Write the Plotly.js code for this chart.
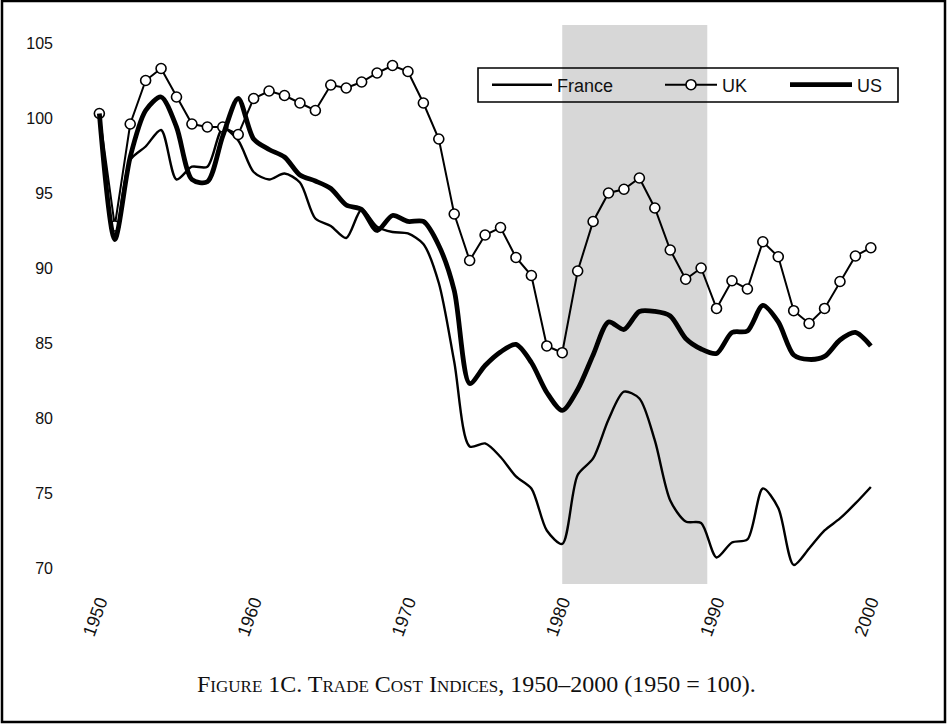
<!DOCTYPE html>
<html>
<head>
<meta charset="utf-8">
<script src="https://cdn.plot.ly/plotly-3.0.1.min.js"></script>
<style>
html,body{margin:0;padding:0;background:#fff;}
#chart{width:948px;height:725px;}
</style>
</head>
<body>
<div id="chart"></div>
<script>
const years = [1950,1951,1952,1953,1954,1955,1956,1957,1958,1959,
               1960,1961,1962,1963,1964,1965,1966,1967,1968,1969,
               1970,1971,1972,1973,1974,1975,1976,1977,1978,1979,
               1980,1981,1982,1983,1984,1985,1986,1987,1988,1989,
               1990,1991,1992,1993,1994,1995,1996,1997,1998,1999,2000];

const france = [100.3,92.0,97.2,98.1,99.2,95.9,96.75,96.75,99.3,98.5,
                96.4,95.9,96.3,95.7,93.3,92.8,92.0,93.9,92.75,92.4,
                92.3,91.6,89.0,83.75,78.1,78.3,77.4,76.1,75.3,72.5,
                71.6,76.2,77.3,79.9,81.75,81.3,78.5,74.5,73.1,73.0,
                70.7,71.7,71.9,75.3,74.0,70.2,71.3,72.5,73.3,74.3,75.4];

const uk = [100.3,92.8,99.6,102.5,103.3,101.4,99.6,99.4,99.4,98.9,
            101.3,101.8,101.5,101.0,100.5,102.2,102.0,102.4,103.0,103.5,
            103.1,101.0,98.6,93.6,90.5,92.2,92.7,90.7,89.5,84.8,
            84.35,89.8,93.1,95.0,95.25,96.0,94.0,91.2,89.25,90.0,
            87.3,89.15,88.6,91.75,90.75,87.15,86.3,87.3,89.1,90.8,91.35];

const us = [100.3,91.9,97.4,100.5,101.4,99.4,95.9,95.75,98.8,101.3,
            98.6,97.9,97.4,96.2,95.8,95.3,94.2,93.9,92.5,93.5,
            93.1,93.1,91.5,88.5,82.3,83.5,84.4,84.9,83.7,81.7,
            80.5,81.9,84.2,86.4,85.9,87.1,87.1,86.8,85.3,84.6,
            84.3,85.7,85.8,87.5,86.4,84.2,83.9,84.1,85.2,85.7,84.8];

const seriesNames = ["France","UK","US"];
const xTicks = [1950,1960,1970,1980,1990,2000];
const yTicks = [70,75,80,85,90,95,100,105];
const shadeStart = 1980, shadeEnd = 1989.4;
const caption = "Figure 1C. Trade Cost Indices, 1950–2000 (1950 = 100).";

const traces = [
  {x: years, y: france, name: seriesNames[0], type: "scatter", mode: "lines", legend: "legend",
   line: {color: "#000", width: 2.4, shape: "spline", smoothing: 0.8}},
  {x: years, y: uk, name: seriesNames[1], type: "scatter", mode: "lines+markers", legend: "legend2",
   line: {color: "#000", width: 2.0},
   marker: {symbol: "circle", size: 10, color: "#fff", line: {color: "#000", width: 1.6}}},
  {x: years, y: us, name: seriesNames[2], type: "scatter", mode: "lines", legend: "legend3",
   line: {color: "#000", width: 4.8, shape: "spline", smoothing: 0.8}}
];

const L = 60, R = 48, T = 25, B = 141;
const W = 948, H = 725;
const pw = W - L - R, ph = H - T - B;
function px2paperX(p){ return (p - L) / pw; }
function px2paperY(p){ return 1 - (p - T) / ph; }

function legendAt(leftPx, itemW){
  return {
    orientation: "h", x: px2paperX(leftPx), y: px2paperY(85), xanchor: "left", yanchor: "middle",
    bgcolor: "rgba(0,0,0,0)", borderwidth: 0, itemwidth: itemW,
    font: {size: 18, color: "#111", family: "Liberation Sans, Arial, sans-serif"}
  };
}

const layout = {
  width: W, height: H,
  margin: {l: L, r: R, t: T, b: B, pad: 0},
  paper_bgcolor: "#fff", plot_bgcolor: "rgba(0,0,0,0)",
  font: {family: "Liberation Sans, Arial, sans-serif", color: "#111", size: 16},
  showlegend: true,
  legend: legendAt(487, 60),
  legend2: legendAt(660, 52),
  legend3: legendAt(785, 62),
  xaxis: {
    range: [1947.45, 2001.89], tickmode: "array", tickvals: xTicks,
    ticktext: xTicks.map(String), tickangle: -70, showgrid: false, zeroline: false,
    showline: false, ticks: "", tickfont: {size: 18, color: "#111"}, ticklabelstandoff: 3
  },
  yaxis: {
    range: [68.93, 106.2], tickmode: "array", tickvals: yTicks,
    ticktext: yTicks.map(String), showgrid: false, zeroline: false,
    showline: false, ticks: "", tickfont: {size: 16, color: "#111"}, ticklabelstandoff: 6
  },
  shapes: [
    {type: "rect", xref: "x", yref: "paper", x0: shadeStart, x1: shadeEnd, y0: 0, y1: 1,
     fillcolor: "#d7d7d7", line: {width: 0}, layer: "below"},
    {type: "rect", xref: "paper", yref: "paper",
     x0: px2paperX(478), x1: px2paperX(898), y0: px2paperY(68), y1: px2paperY(102),
     line: {color: "#000", width: 1.6}, fillcolor: "rgba(0,0,0,0)", layer: "above"},
    {type: "rect", xref: "paper", yref: "paper",
     x0: px2paperX(2), x1: px2paperX(945), y0: px2paperY(1), y1: px2paperY(722),
     line: {color: "#000", width: 2.5}, fillcolor: "rgba(0,0,0,0)", layer: "above"}
  ],
  annotations: [
    {text: caption, xref: "paper", yref: "paper", x: px2paperX(476), y: px2paperY(684),
     xanchor: "center", yanchor: "middle", showarrow: false,
     font: {family: "Liberation Serif, Times New Roman, serif", size: 24, variant: "small-caps", color: "#111"}}
  ]
};

Plotly.newPlot("chart", traces, layout, {displayModeBar: false, staticPlot: true});
</script>
</body>
</html>
